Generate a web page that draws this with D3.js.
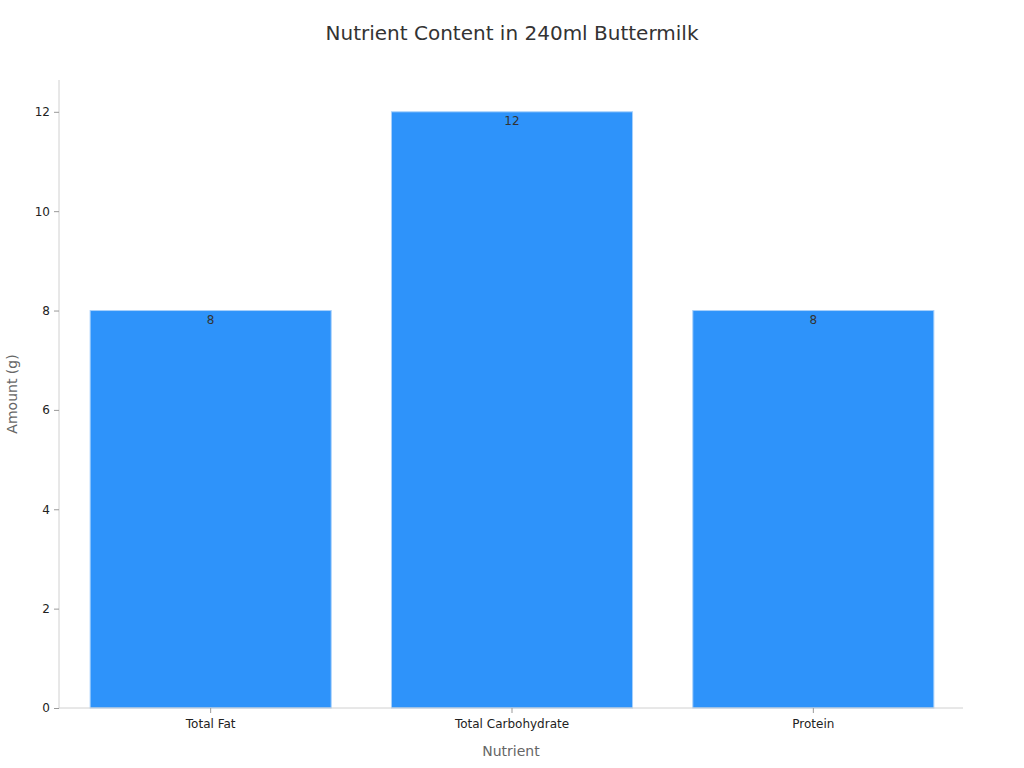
<!DOCTYPE html>
<html lang="en">
<head>
<meta charset="utf-8">
<title>Nutrient Content in 240ml Buttermilk</title>
<script src="https://d3js.org/d3.v7.min.js"></script>
<style>
  body { margin: 0; background: #fff; font-family: "DejaVu Sans", sans-serif; }
</style>
</head>
<body>
<div id="chart"></div>
<script>
// Data
var nutrients = ["Total Fat", "Total Carbohydrate", "Protein"];
var amounts = [8, 12, 8];
var yTicks = [0, 2, 4, 6, 8, 10, 12];

var w = 1024, h = 768;
var margin = { top: 80, right: 61, bottom: 60, left: 59 };

var svg = d3.select("#chart").append("svg")
  .attr("width", w)
  .attr("height", h);

var x = d3.scaleBand()
  .domain(nutrients)
  .range([margin.left + 1, w - margin.right + 1])
  .paddingInner(0.2)
  .paddingOuter(0.1);

var y = d3.scaleLinear()
  .domain([0, 12.64])
  .range([h - margin.bottom, margin.top]);

// Title
svg.append("text")
  .attr("x", w / 2)
  .attr("y", 40)
  .attr("text-anchor", "middle")
  .style("font-size", "20px")
  .style("fill", "#333")
  .text("Nutrient Content in 240ml Buttermilk");

// Bars
svg.selectAll("rect.bar")
  .data(nutrients)
  .enter()
  .append("rect")
  .attr("class", "bar")
  .attr("x", function(d) { return x(d); })
  .attr("y", function(d, i) { return y(amounts[i]); })
  .attr("width", x.bandwidth())
  .attr("height", function(d, i) { return y(0) - y(amounts[i]); })
  .style("fill", "#2e93fa")
  .style("stroke", "#a8d0fb")
  .style("stroke-width", 1);

// Value labels
svg.selectAll("text.val")
  .data(nutrients)
  .enter()
  .append("text")
  .attr("class", "val")
  .attr("x", function(d) { return x(d) + x.bandwidth() / 2; })
  .attr("y", function(d, i) { return y(amounts[i]) + 13; })
  .attr("text-anchor", "middle")
  .style("font-size", "12px")
  .style("fill", "#333")
  .text(function(d, i) { return amounts[i]; });

// Axes
var yAxis = svg.append("g")
  .attr("transform", "translate(" + margin.left + ",0)")
  .call(d3.axisLeft(y).tickValues(yTicks).tickSize(5).tickPadding(4));

var xAxis = svg.append("g")
  .attr("transform", "translate(0," + (h - margin.bottom) + ")")
  .call(d3.axisBottom(x).tickSize(5).tickPadding(6).tickSizeOuter(0));

[xAxis, yAxis].forEach(function(g) {
  g.select(".domain").style("stroke", "#d0d0d0");
  g.selectAll(".tick line").style("stroke", "#999");
  g.selectAll(".tick text")
    .style("font-family", "DejaVu Sans, sans-serif")
    .style("font-size", "12px")
    .style("fill", "#222");
});
yAxis.select(".domain").attr("d", "M0," + margin.top + "V" + (h - margin.bottom));
xAxis.select(".domain").attr("d", "M" + margin.left + ",0H" + (w - margin.right));

// Axis titles
svg.append("text")
  .attr("x", (margin.left + w - margin.right) / 2)
  .attr("y", 756)
  .attr("text-anchor", "middle")
  .style("font-size", "14px")
  .style("fill", "#666")
  .text("Nutrient");

svg.append("text")
  .attr("transform", "translate(17," + ((margin.top + h - margin.bottom) / 2) + ") rotate(-90)")
  .attr("text-anchor", "middle")
  .style("font-size", "14px")
  .style("fill", "#666")
  .text("Amount (g)");
</script>
</body>
</html>
